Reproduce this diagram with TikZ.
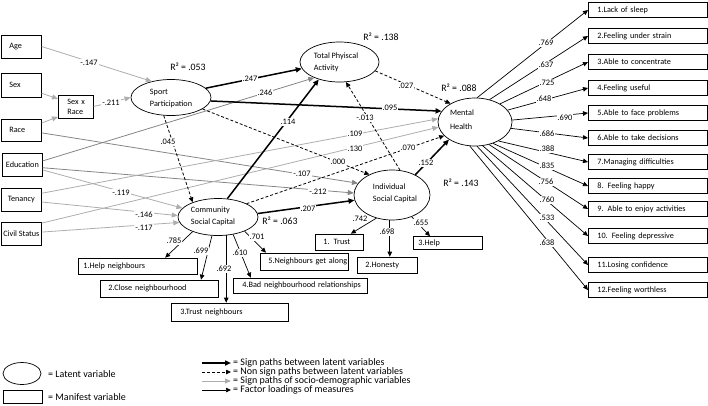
\documentclass[tikz,border=0pt]{standalone}
\usepackage{fontspec}
\setmainfont{Carlito}
\usetikzlibrary{arrows.meta,shapes.geometric,calc}
\definecolor{dgray}{HTML}{858585}
\definecolor{lgray}{HTML}{ADADAD}
\newcommand\nw[1]{\makebox[0pt][l]{#1}}
\begin{document}
\begin{tikzpicture}[x=1pt,y=-1pt,
  box/.style={draw, line width=0.7pt, rectangle, inner sep=0pt, font=\fontsize{8.2}{10}\selectfont},
  lat/.style={draw, line width=0.7pt, ellipse, inner sep=0pt},
  ltxt/.style={align=left, font=\fontsize{8.2}{12}\selectfont, inner sep=0pt},
  lbl/.style={fill=white, inner sep=0.8pt, font=\fontsize{8.4}{9}\selectfont},
  rsq/.style={font=\fontsize{9.8}{11}\selectfont, inner sep=0pt},
  lgt/.style={font=\fontsize{10}{11}\selectfont, inner sep=0pt, anchor=west},
  sig/.style={line width=1.5pt, -{Triangle[length=6pt,width=5pt]}},
  nsig/.style={line width=0.8pt, dash pattern=on 3pt off 2pt, -{Triangle[length=5pt,width=4.5pt]}},
  demo/.style={line width=0.8pt, draw=lgray, -{Triangle[length=6pt,width=5pt]}},
  demod/.style={demo, draw=dgray},
  load/.style={line width=0.7pt, -{Triangle[length=5pt,width=4.5pt]}},
  rb/.style={box, anchor=west, minimum height=15pt, inner xsep=9pt, text width=101pt, align=left},
]
\useasboundingbox (0,0) rectangle (708,405);

% ---------- socio-demographic boxes ----------
\node[box, anchor=west, minimum height=23pt, inner xsep=8pt, text width=24pt, align=left] (age) at (1,46.5) {\nw{Age}};
\node[box, anchor=west, minimum height=24pt, inner xsep=8pt, text width=24pt, align=left] (sex) at (1,85) {\nw{Sex}};
\node[box, anchor=west, minimum height=22pt, inner xsep=8pt, text width=24pt, align=left] (race) at (1,130) {\nw{Race}};
\node[box, anchor=west, minimum height=23pt, minimum width=40pt] (edu) at (2,164.5) {Education};
\node[box, anchor=west, minimum height=23pt, minimum width=40pt] (ten) at (1,199.5) {Tenancy};
\node[box, anchor=west, minimum height=23pt, minimum width=40pt] (civ) at (1,233.5) {Civil Status};
\node[box, anchor=west, minimum height=23pt, inner xsep=9pt, text width=17pt, align=left] (sxr) at (58,106.5) {\nw{Sex x}\\\nw{Race}};

% ---------- latent variables ----------
\node[lat, minimum width=80pt, minimum height=36pt] (sp) at (171,97.5) {};
\node[ltxt] (sp-t) at (171,98) {Sport\\Participation};
\node[lat, minimum width=79pt, minimum height=40pt] (tpa) at (339.5,62) {};
\node[ltxt] (tpa-t) at (336,62.5) {Total Phyiscal\\Activity};
\node[lat, minimum width=74pt, minimum height=48pt] (mh) at (475,122) {};
\node[ltxt] (mh-t) at (462,120) {Mental\\[2pt]Health};
\node[lat, minimum width=80pt, minimum height=37pt] (csc) at (218,217) {};
\node[ltxt] (csc-t) at (213,216) {Community\\Social Capital};
\node[lat, minimum width=76pt, minimum height=50pt] (isc) at (392,195) {};
\node[ltxt] (isc-t) at (395,193) {Individual\\Social Capital};

% ---------- manifest boxes (community / individual) ----------
\node[box, anchor=west, minimum height=16pt, inner xsep=5pt, text width=109pt, align=left] (hn) at (78,266) {\nw{1.Help neighbours}};
\node[box, anchor=west, minimum height=17pt, inner xsep=8pt, text width=102pt, align=left] (cn) at (100,288.5) {\nw{2.Close neighbourhood}};
\node[box, anchor=west, minimum height=18pt, inner xsep=9pt, text width=99pt, align=left] (tn) at (171,312) {\nw{3.Trust neighbours}};
\node[box, anchor=west, minimum height=15pt, inner xsep=9pt, text width=116pt, align=left] (bn) at (233,285.5) {\nw{4.Bad neighbourhood relationships}};
\node[box, anchor=west, minimum height=17pt, inner xsep=8pt, text width=72pt, align=left] (ng) at (260,261.5) {\nw{5.Neighbours get along}};
\node[box, anchor=west, minimum height=16pt, inner xsep=8pt, text width=32pt, align=left] (t1) at (315,242) {\nw{1. Trust}};
\node[box, anchor=west, minimum height=16pt, inner xsep=8pt, text width=44pt, align=left] (hon) at (357,265) {\nw{2.Honesty}};
\node[box, anchor=west, minimum height=13pt, inner xsep=5pt, text width=59pt, align=left] (hp) at (413,243) {\nw{3.Help}};

% ---------- mental health items ----------
\node[rb] (m1) at (588,10) {\nw{1.Lack of sleep}};
\node[rb] (m2) at (588,36) {\nw{2.Feeling under strain}};
\node[rb] (m3) at (588,62) {\nw{3.Able to concentrate}};
\node[rb] (m4) at (588,88) {\nw{4.Feeling useful}};
\node[rb] (m5) at (588,113) {\nw{5.Able to face problems}};
\node[rb] (m6) at (588,138) {\nw{6.Able to take decisions}};
\node[rb] (m7) at (588,162) {\nw{7.Managing difficulties}};
\node[rb] (m8) at (588,186) {\nw{8. Feeling happy}};
\node[rb] (m9) at (588,209) {\nw{9. Able to enjoy activities}};
\node[rb] (m10) at (588,236) {\nw{10. Feeling depressive}};
\node[rb] (m11) at (588,265) {\nw{11.Losing confidence}};
\node[rb] (m12) at (588,290) {\nw{12.Feeling worthless}};

% ---------- socio-demographic paths ----------
\draw[demo] (age.east) -- (sp.140);
\draw[demo] (sex.-22) -- (sxr.157);
\draw[demo] (race.19) -- (sxr.210);
\draw[demo] (sxr.east) -- (sp.west);
\draw[demod] (edu.10) -- (tpa.212);
\draw[demod] (race.-8) -- (isc.161);
\draw[demod] (edu.-9) -- (isc.177);
\draw[demo] (edu.-15) -- (csc.166);
\draw[demo] (ten.-7) -- (csc.178);
\draw[demo] (civ.4) -- (csc.188);
\draw[demo] (ten.17) -- (mh.175);
\draw[demo] (civ.27) -- (mh.188);

% ---------- structural paths ----------
\draw[sig] (sp.15) -- (tpa.190);
\draw[sig] (sp.-5) -- (mh.162);
\draw[nsig] (sp.248) -- (csc.150);
\draw[nsig] (sp.-20) -- (isc.138);
\draw[sig] (csc.63) -- (tpa.220);
\draw[nsig] (csc.25) -- (mh.204);
\draw[sig] (csc.5) -- (isc.188);
\draw[nsig] (isc.72) -- (tpa.-72);
\draw[sig] (isc.41) -- (mh.214);
\draw[nsig] (tpa.-14) -- (mh.143);

% ---------- factor loadings ----------
\draw[load] (csc.210) -- (hn.17);
\draw[load] (csc.252) -- (cn.12);
\draw[load] (csc.294) -- (csc.294 |- tn.north);
\draw[load] (csc.311) -- (bn.171);
\draw[load] (csc.332) -- (ng.167);
\draw[load] (isc.236) -- (t1.36);
\draw[load] (isc.265) -- (isc.265 |- hon.north);
\draw[load] (isc.312) -- (hp.159);
\foreach \a/\i in {85/1,57/2,36/3,20/4,3/5,-10/6,-39/7,-50/8,-58/9,-72/10,-85/11,-102/12}
  \draw[load] (mh.\a) -- (m\i.west);

% ---------- path labels ----------
\node[lbl] (l147) at (89,63) {-.147};
\node[lbl] (l211) at (111,103) {-.211};
\node[lbl] (l107) at (302,174) {-.107};
\node[lbl] (l212) at (318,192) {-.212};
\node[lbl] (l109) at (355,134) {.109};
\node[lbl] (l130) at (355,149) {.130};
\node[lbl] (l070) at (408,148) {.070};
\node[lbl] (l000) at (338,162) {.000};
\node[lbl] (l207) at (308,209) {.207};
\node[lbl] (l152) at (426,163) {.152};
\node[lbl] (l013) at (365,118) {-.013};
\node[lbl] (l027) at (406,86) {.027};
\node[lbl] (l095) at (390,108) {.095};
\node[lbl] (l114) at (288,122) {.114};
\node[lbl] (l247) at (250,79) {.247};
\node[lbl] (l246) at (265,93) {.246};
\node[lbl] (l045) at (168,142) {.045};
\node[lbl] (l119) at (121,193) {-.119};
\node[lbl] (l146) at (144,215) {-.146};
\node[lbl] (l117) at (144,228) {-.117};
\node[lbl] (l785) at (174,241) {.785};
\node[lbl] (l699) at (201,251) {.699};
\node[lbl] (l692) at (224,269) {.692};
\node[lbl] (l610) at (240,253) {.610};
\node[lbl] (l701) at (257,237) {.701};
\node[lbl] (l742) at (360,219) {.742};
\node[lbl] (l698) at (387,232) {.698};
\node[lbl] (l655) at (421,223) {.655};
\node[lbl] (l769) at (546,43) {.769};
\node[lbl] (l637) at (546,65) {.637};
\node[lbl] (l725) at (547,83) {.725};
\node[lbl] (l648) at (544,99) {.648};
\node[lbl] (l690) at (565,118) {.690};
\node[lbl] (l686) at (547,134) {.686};
\node[lbl] (l388) at (547,149) {.388};
\node[lbl] (l835) at (547,166) {.835};
\node[lbl] (l756) at (546,182) {.756};
\node[lbl] (l760) at (547,200) {.760};
\node[lbl] (l533) at (547,218) {.533};
\node[lbl] (l638) at (547,243) {.638};

% ---------- R squared ----------
\node[rsq] (r1) at (188,67) {R² = .053};
\node[rsq] (r2) at (381,37) {R² = .138};
\node[rsq] (r3) at (459,88) {R² = .088};
\node[rsq] (r4) at (461,183) {R² = .143};
\node[rsq] (r5) at (280,221) {R² = .063};

% ---------- legend ----------
\node[lat, minimum width=38pt, minimum height=22pt] (lge) at (22,373.5) {};
\node[lgt] (lget) at (48,374) {= Latent variable};
\node[box, minimum width=39pt, minimum height=13pt] (lgr) at (22.5,397) {};
\node[lgt] (lgrt) at (48,397) {= Manifest variable};
\node[lgt] (lt1) at (233,363) {= Sign paths between latent variables};
\node[lgt] (lt2) at (233,372) {= Non sign paths between latent variables};
\node[lgt] (lt3) at (233,381) {= Sign paths of socio-demographic variables};
\node[lgt] (lt4) at (233,390) {= Factor loadings of measures};
\coordinate (la1) at (202,363);
\coordinate (la2) at (202,372);
\coordinate (la3) at (202,381);
\coordinate (la4) at (202,390);
\draw[sig] (la1) -- ([xshift=-2pt]lt1.west);
\draw[nsig] (la2) -- ([xshift=-2pt]lt2.west);
\draw[demo] (la3) -- ([xshift=-2pt]lt3.west);
\draw[load] (la4) -- ([xshift=-2pt]lt4.west);
\end{tikzpicture}
\end{document}
